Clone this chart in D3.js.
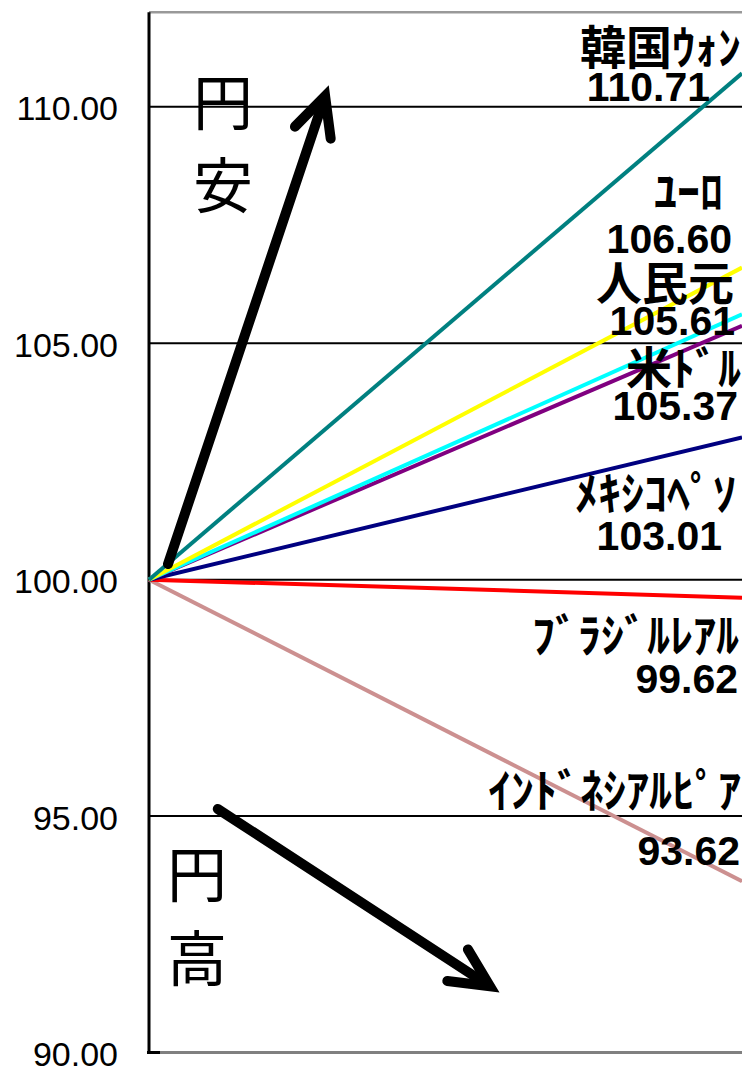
<!DOCTYPE html>
<html>
<head>
<meta charset="utf-8">
<script src="https://cdn.jsdelivr.net/npm/d3@7"></script>
<style>
  body { margin: 0; background: #fff; }
  svg { display: block; }
</style>
</head>
<body>
<svg id="chart" width="742" height="1066"></svg>
<script>
// data
var currencies = ["韓国ｳｫﾝ", "ﾕｰﾛ", "人民元", "米ﾄﾞﾙ", "ﾒｷｼｺﾍﾟｿ", "ﾌﾞﾗｼﾞﾙﾚｱﾙ", "ｲﾝﾄﾞﾈｼｱﾙﾋﾟｱ"];
var startValues = [100, 100, 100, 100, 100, 100, 100];
var endValues = [110.71, 106.60, 105.61, 105.37, 103.01, 99.62, 93.62];
var tickValues = [90, 95, 100, 105, 110];
var gridValues = [95, 100, 105, 110];

// styles / layout
var colors = ["#008080", "#ffff00", "#00ffff", "#800080", "#000080", "#ff0000", "#cc9090"];
var labelLayout = [
    { nameRight: 741, nameBase: 64,  valRight: 710, valBase: 101 },
    { nameRight: 723, nameBase: 208, valRight: 732, valBase: 253 },
    { nameRight: 734, nameBase: 300, valRight: 735, valBase: 335 },
    { nameRight: 741, nameBase: 385, valRight: 738, valBase: 420 },
    { nameRight: 736, nameBase: 510, valRight: 722, valBase: 550 },
    { nameRight: 739, nameBase: 652, valRight: 738, valBase: 693 },
    { nameRight: 741, nameBase: 807, valRight: 740, valBase: 865 }
];
// arrows in data units (x as share of the plot width, y as index value)
var arrows = [
    { x0: 0.032, y0: 100.33, x1: 0.297, y1: 110.23 },
    { x0: 0.116, y0: 95.15, x1: 0.575, y1: 91.40 }
];

var plotLeft = 149, plotRight = 742, plotTop = 12.3, plotBottom = 1052.5;

var svg = d3.select('#chart');

var x = d3.scaleLinear().domain([0, 1]).range([plotLeft, plotRight]);
var y = d3.scaleLinear().domain([90, 112]).range([plotBottom, plotTop]);

svg.append('rect').attr('width', 742).attr('height', 1066).attr('fill', '#fff');

// top border + bottom axis (grey)
svg.append('line')
    .attr('x1', plotLeft).attr('x2', plotRight).attr('y1', y(112)).attr('y2', y(112))
    .attr('stroke', '#999').attr('stroke-width', 2.5);

svg.append('line')
    .attr('x1', plotLeft).attr('x2', plotRight).attr('y1', y(90)).attr('y2', y(90))
    .attr('stroke', '#808080').attr('stroke-width', 3);

// grid lines
svg.append('g')
    .selectAll('line')
    .data(gridValues)
    .enter()
    .append('line')
    .attr('x1', plotLeft).attr('x2', plotRight)
    .attr('y1', d => y(d)).attr('y2', d => y(d))
    .attr('stroke', '#000').attr('stroke-width', 2);

// y axis
var yAxis = d3.axisLeft(y)
    .tickValues(tickValues)
    .tickFormat(d3.format('.2f'))
    .tickSize(0)
    .tickPadding(31);

var axisG = svg.append('g')
    .attr('transform', `translate(${plotLeft} 0)`)
    .call(yAxis);

axisG.select('.domain').remove();
axisG.selectAll('text')
    .attr('dy', '0.38em')
    .attr('fill', '#000')
    .style('font-family', '"Liberation Sans", Arial, sans-serif')
    .style('font-size', '34px');

svg.append('line')
    .attr('x1', plotLeft).attr('x2', plotLeft).attr('y1', plotTop).attr('y2', plotBottom + 1.5)
    .attr('stroke', '#000').attr('stroke-width', 3);
svg.append('line')
    .attr('x1', plotLeft - 2).attr('x2', plotLeft + 11).attr('y1', y(90)).attr('y2', y(90))
    .attr('stroke', '#000').attr('stroke-width', 3);

// series lines
var series = currencies.map((c, i) => ({ name: c, values: [startValues[i], endValues[i]], color: colors[i] }));

var line = d3.line()
    .x((d, i) => x(i))
    .y(d => y(d));

svg.append('g')
    .selectAll('path')
    .data(series.slice().reverse())
    .enter()
    .append('path')
    .attr('d', d => line(d.values))
    .attr('fill', 'none')
    .attr('stroke', d => d.color)
    .attr('stroke-width', 4);

// labels
var labels = svg.append('g');

labels.selectAll('text.name')
    .data(series)
    .enter()
    .append('text')
    .attr('class', 'name')
    .attr('x', (d, i) => labelLayout[i].nameRight)
    .attr('y', (d, i) => labelLayout[i].nameBase)
    .attr('text-anchor', 'end')
    .style('font-family', '"Noto Sans CJK JP", sans-serif')
    .style('font-weight', 700)
    .style('font-size', '46px')
    .text(d => d.name);

labels.selectAll('text.val')
    .data(series)
    .enter()
    .append('text')
    .attr('class', 'val')
    .attr('x', (d, i) => labelLayout[i].valRight)
    .attr('y', (d, i) => labelLayout[i].valBase)
    .attr('text-anchor', 'end')
    .style('font-family', '"Liberation Sans", Arial, sans-serif')
    .style('font-weight', 700)
    .style('font-size', '41px')
    .text(d => d3.format('.2f')(d.values[1]));

// arrows
var armLen = 43, armAngle = 26 * Math.PI / 180;

arrows.forEach(a => {
    let sx = x(a.x0), sy = y(a.y0), tx = x(a.x1), ty = y(a.y1);
    let back = Math.atan2(sy - ty, sx - tx);
    let p1 = [tx + armLen * Math.cos(back + armAngle), ty + armLen * Math.sin(back + armAngle)];
    let p2 = [tx + armLen * Math.cos(back - armAngle), ty + armLen * Math.sin(back - armAngle)];

    svg.append('line')
        .attr('x1', sx).attr('y1', sy)
        .attr('x2', tx + 5 * Math.cos(back)).attr('y2', ty + 5 * Math.sin(back))
        .attr('stroke', '#000').attr('stroke-width', 10).attr('stroke-linecap', 'round');

    svg.append('path')
        .attr('d', `M${p1[0]},${p1[1]}L${tx},${ty}L${p2[0]},${p2[1]}`)
        .attr('fill', 'none')
        .attr('stroke', '#000').attr('stroke-width', 10)
        .attr('stroke-linecap', 'round').attr('stroke-linejoin', 'miter');
});

// 円安 / 円高
var notes = [
    { chars: ["円", "安"], cx: 223, bases: [125, 208] },
    { chars: ["円", "高"], cx: 197, bases: [897, 981] }
];

notes.forEach(n => {
    svg.append('g')
        .selectAll('text')
        .data(n.chars)
        .enter()
        .append('text')
        .attr('x', n.cx)
        .attr('y', (d, i) => n.bases[i])
        .attr('text-anchor', 'middle')
        .style('font-family', '"Noto Sans CJK JP", sans-serif')
        .style('font-weight', 400)
        .style('font-size', '60px')
        .text(d => d);
});
</script>
</body>
</html>
